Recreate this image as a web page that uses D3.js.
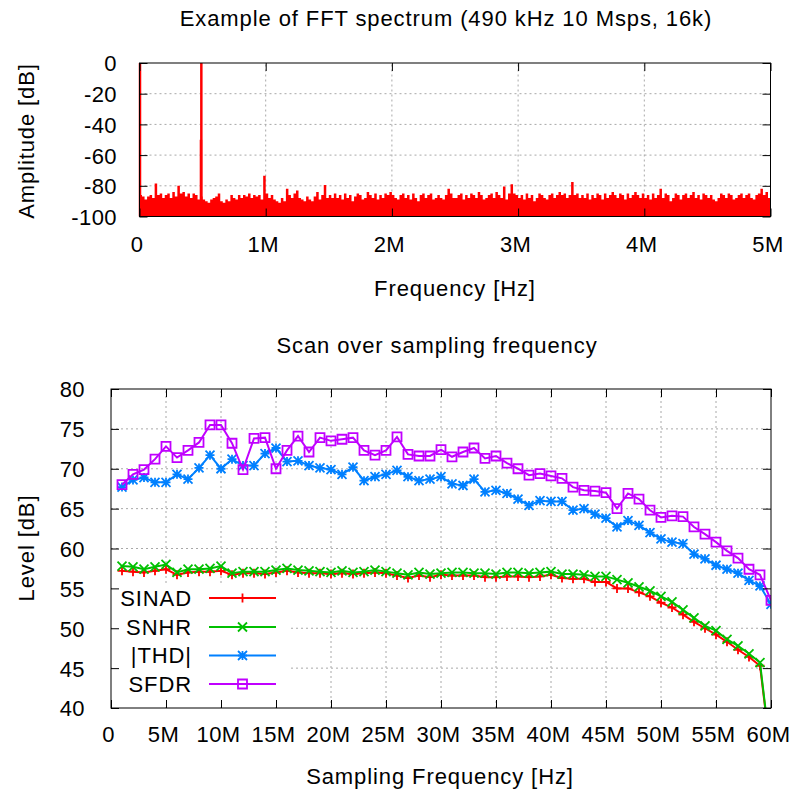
<!DOCTYPE html>
<html><head><meta charset="utf-8">
<script src="https://cdn.jsdelivr.net/npm/d3@7"></script>
<style>
html,body{margin:0;padding:0;background:#fff;}
text{font-family:"Liberation Sans",Arial,sans-serif;font-size:22px;fill:#000;letter-spacing:0.9px;}
.tick text{letter-spacing:0.4px;}
</style></head>
<body><svg id="c" width="792" height="792"></svg>
<script>
// ---------- Top chart data (FFT spectrum, MHz / dB) ----------
const fftTitle = "Example of FFT spectrum (490 kHz 10 Msps, 16k)";
const fftXTicks = [0, 1, 2, 3, 4, 5];
const fftXTickLabels = ["0", "1M", "2M", "3M", "4M", "5M"];
const fftYTicks = [0, -20, -40, -60, -80, -100];
const noiseStepMHz = 0.02;
// top envelope of the noise floor, one value per 20 kHz bin (0 .. 5 MHz)
const noiseTop = [
 -86,-87,-89,-87,-86,-88,-78.5,-86,-85,-88,-86,-85,-88,-84,-87,-80,-85,-84,-87,-85,-88,-85,-86,-89,-87,
 -89,-90,-91,-89,-88,-87,-85,-90,-91,-89,-90,-86,-88,-89,-86,-88,-86,-87,-85,-88,-86,-87,-86,-89,-73.5,
 -85,-88,-86,-89,-90,-91,-88,-90,-82,-86,-88,-85,-83,-88,-89,-90,-87,-89,-90,-87,-84,-89,-86,-79.5,-88,
 -86,-88,-85,-88,-86,-89,-85,-88,-86,-90,-87,-85,-86,-89,-88,-84,-86,-88,-85,-89,-86,-88,-85,-86,-84,
 -86,-88,-89,-86,-85,-88,-86,-89,-85,-88,-90,-86,-85,-88,-86,-85,-89,-88,-86,-88,-89,-86,-82,-85,-88,
 -88,-86,-85,-89,-86,-88,-85,-86,-88,-84,-86,-89,-88,-86,-85,-88,-84,-86,-88,-80.5,-89,-85,-79,-85,-86,
 -88,-86,-89,-85,-88,-86,-90,-88,-85,-86,-88,-89,-86,-85,-88,-86,-84,-86,-85,-88,-86,-77.5,-86,-85,-88,
 -86,-88,-85,-89,-86,-88,-85,-86,-89,-85,-88,-86,-84,-86,-88,-85,-86,-89,-85,-88,-86,-84,-86,-88,-85,
 -88,-86,-89,-85,-88,-86,-82,-88,-85,-86,-90,-88,-85,-86,-89,-86,-85,-88,-86,-84,-88,-86,-89,-85,-86,
 -88,-86,-89,-90,-88,-85,-86,-88,-85,-86,-89,-88,-86,-85,-88,-86,-85,-88,-89,-86,-85,-82,-86,-84,-88,
 -86];
// narrow spectral lines: DC, fundamental and its neighbouring bin
const peakFreqMHz = [0, 0.487, 0.49];
const peakDb      = [0, -50, 0];

// ---------- Bottom chart data ----------
const scanTitle = "Scan over sampling frequency";
const fsMHz = [1,2,3,4,5,6,7,8,9,10,11,12,13,14,15,16,17,18,19,20,21,22,23,24,25,26,27,28,29,30,
               31,32,33,34,35,36,37,38,39,40,41,42,43,44,45,46,47,48,49,50,51,52,53,54,55,56,57,58,59,60];
const sinad = [57.2,57.1,57.0,57.2,57.4,56.7,57.0,57.1,57.1,57.2,56.7,56.9,56.9,56.8,57.0,57.2,57.0,56.9,56.9,56.8,
               56.9,56.8,56.9,57.0,56.9,56.6,56.3,56.6,56.4,56.7,56.6,56.6,56.6,56.4,56.4,56.5,56.5,56.4,56.5,56.7,
               56.3,56.2,56.2,55.8,55.8,55.0,55.0,54.5,54.0,53.2,52.6,51.7,50.8,50.0,49.2,48.3,47.3,46.4,45.3,34.0];
const snhr  = [57.8,57.7,57.4,57.7,58.0,57.0,57.4,57.4,57.5,57.8,56.9,57.1,57.1,57.1,57.3,57.5,57.3,57.2,57.1,57.0,
               57.2,57.0,57.1,57.3,57.1,56.9,56.7,57.0,56.8,56.9,57.0,57.0,56.9,56.9,56.8,57.0,57.0,56.9,57.0,57.1,
               56.8,56.8,56.7,56.5,56.5,56.1,55.7,55.2,54.7,54.0,53.3,52.3,51.3,50.3,49.7,48.6,47.8,46.8,45.7,34.0];
const thd   = [67.7,68.6,68.9,68.3,68.3,69.3,68.7,70.1,71.7,70.0,71.2,70.4,70.4,71.9,72.6,70.9,71.0,70.4,70.1,69.9,
               69.3,70.2,68.5,69.0,69.3,69.8,69.0,68.5,68.7,69.0,68.1,67.9,68.7,67.1,67.3,66.9,66.2,65.4,66.0,65.9,
               65.9,64.8,65.0,64.3,63.8,62.7,63.5,62.9,62.0,61.2,60.8,60.6,59.3,58.7,57.9,57.4,56.9,56.0,55.3,53.0];
const sfdr  = [68.0,69.3,69.9,71.2,72.8,71.4,72.3,73.3,75.5,75.5,73.2,69.9,73.8,73.9,70.0,72.3,74.1,72.1,73.9,73.5,
               73.7,73.9,72.3,71.7,72.3,74.0,71.8,71.6,71.6,72.4,71.5,72.1,72.6,71.3,71.6,70.7,70.0,69.2,69.4,69.1,
               68.8,67.7,67.3,67.2,67.0,65.0,66.9,66.2,64.8,63.9,64.1,64.0,62.7,61.8,60.8,59.7,58.8,57.4,56.7,53.5];
const seriesNames  = ["SINAD", "SNHR", "|THD|", "SFDR"];
const seriesColors = ["#ff0000", "#00c000", "#0080ff", "#c000ff"];
const seriesMarks  = ["plus", "cross", "star", "square"];
const scanXTicks = [0,5,10,15,20,25,30,35,40,45,50,55,60];
const scanXTickLabels = ["0","5M","10M","15M","20M","25M","30M","35M","40M","45M","50M","55M","60M"];
const scanYTicks = [40,45,50,55,60,65,70,75,80];

// ---------- drawing ----------
const svg = d3.select("#c");
const GRID = "#a8a8a8";

function frame(g, x, y, xt, yt) {
  const [x0, x1] = x.range(), [y0, y1] = y.range();
  g.append("g").selectAll("line").data(xt.filter(v => v !== x.domain()[0] && v !== x.domain()[1]))
    .join("line").attr("x1", d => x(d)).attr("x2", d => x(d)).attr("y1", y0).attr("y2", y1)
    .attr("stroke", GRID).attr("stroke-width", 1).attr("stroke-dasharray", "2,3");
  g.append("g").selectAll("line").data(yt.filter(v => v !== y.domain()[0] && v !== y.domain()[1]))
    .join("line").attr("y1", d => y(d)).attr("y2", d => y(d)).attr("x1", x0).attr("x2", x1)
    .attr("stroke", GRID).attr("stroke-width", 1).attr("stroke-dasharray", "2,3");
}
function axes(g, x, y, xt, yt, xfmt, yfmt, xLabelY, yLabelX, xShift) {
  const [x0, x1] = x.range(), [y0, y1] = y.range();
  const TK = 8;
  const ab = g.append("g").attr("transform", `translate(0,${y0})`)
    .call(d3.axisBottom(x).tickValues(xt).tickSize(-TK).tickFormat(xfmt));
  const at = g.append("g").attr("transform", `translate(0,${y1})`)
    .call(d3.axisTop(x).tickValues(xt).tickSize(-TK).tickFormat(""));
  const al = g.append("g").attr("transform", `translate(${x0},0)`)
    .call(d3.axisLeft(y).tickValues(yt).tickSize(-TK).tickFormat(yfmt));
  const ar = g.append("g").attr("transform", `translate(${x1},0)`)
    .call(d3.axisRight(y).tickValues(yt).tickSize(-TK).tickFormat(""));
  [ab, at, al, ar].forEach(a => {
    a.select(".domain").remove();
    a.selectAll(".tick line").attr("stroke", "#000").attr("stroke-width", 1);
    a.attr("font-family", null).attr("font-size", null);
  });
  ab.selectAll(".tick text").attr("y", xLabelY - y0).attr("x", xShift).attr("dy", null).attr("text-anchor", "middle");
  al.selectAll(".tick text").attr("x", yLabelX - x0).attr("dy", "0.36em").attr("text-anchor", "end");
  g.append("rect").attr("x", x0).attr("y", y1).attr("width", x1 - x0).attr("height", y0 - y1)
    .attr("fill", "none").attr("stroke", "#000").attr("stroke-width", 1);
}

// ===== Top chart =====
const xT = d3.scaleLinear().domain([0, 5]).range([139.5, 770.5]);
const yT = d3.scaleLinear().domain([-100, 0]).range([216.5, 63]);
const gT = svg.append("g");
frame(gT, xT, yT, fftXTicks, fftYTicks);
svg.append("clipPath").attr("id", "clipT").append("rect")
  .attr("x", 139.5).attr("y", 62).attr("width", 631).attr("height", 154.5);
const noisePts = noiseTop.map((v, i) => [i * noiseStepMHz, v]);
gT.append("path").datum(noisePts).attr("clip-path", "url(#clipT)")
  .attr("d", d3.area().x(d => xT(d[0])).y0(yT(-100)).y1(d => yT(d[1])).curve(d3.curveStepAfter))
  .attr("fill", "#ff0000");
gT.append("g").selectAll("line").data(peakFreqMHz.map((f, i) => [f, peakDb[i]])).join("line")
  .attr("x1", d => xT(d[0]) + (d[0] === 0 ? 0.5 : 0)).attr("x2", d => xT(d[0]) + (d[0] === 0 ? 0.5 : 0))
  .attr("y1", yT(-100)).attr("y2", d => yT(d[1]))
  .attr("stroke", "#ff0000").attr("stroke-width", 2.5);
axes(gT, xT, yT, fftXTicks, fftYTicks, (d, i) => fftXTickLabels[i], d => d, 252, 117, -3);
svg.append("text").attr("x", 446).attr("y", 26).attr("text-anchor", "middle").text(fftTitle);
svg.append("text").attr("x", 455).attr("y", 296).attr("text-anchor", "middle").text("Frequency [Hz]");
svg.append("text").attr("transform", "translate(34,141) rotate(-90)").attr("text-anchor", "middle").text("Amplitude [dB]");

// ===== Bottom chart =====
const xB = d3.scaleLinear().domain([0, 60]).range([111, 771]);
const yB = d3.scaleLinear().domain([40, 80]).range([708, 389]);
const gB = svg.append("g");
frame(gB, xB, yB, scanXTicks, scanYTicks);
gB.append("rect").attr("x", 112).attr("y", 583).attr("width", 178).attr("height", 124).attr("fill", "#fff");
svg.append("clipPath").attr("id", "clipB").append("rect")
  .attr("x", 111).attr("y", 389).attr("width", 660).attr("height", 319);

function marker(sel, type, s) {
  let d;
  if (type === "plus") d = `M${-s},0H${s}M0,${-s}V${s}`;
  else if (type === "cross") d = `M${-s},${-s}L${s},${s}M${-s},${s}L${s},${-s}`;
  else if (type === "star") d = `M${-s},0H${s}M0,${-s}V${s}M${-s},${-s}L${s},${s}M${-s},${s}L${s},${-s}`;
  else d = `M${-s},${-s}H${s}V${s}H${-s}Z`;
  return sel.attr("d", d);
}
const allSeries = [sinad, snhr, thd, sfdr];
const line = d3.line().x(d => xB(d[0])).y(d => yB(d[1]));
const gData = gB.append("g").attr("clip-path", "url(#clipB)");
allSeries.forEach((vals, k) => {
  const pts = fsMHz.map((f, i) => [f, vals[i]]);
  const col = seriesColors[k];
  gData.append("path").datum(pts).attr("d", line).attr("fill", "none")
    .attr("stroke", col).attr("stroke-width", 2);
  gData.append("g").selectAll("path").data(pts).join("path")
    .attr("transform", d => `translate(${xB(d[0])},${yB(d[1])})`)
    .call(s => marker(s, seriesMarks[k], 4.5))
    .attr("fill", "none").attr("stroke", col).attr("stroke-width", 1.8);
});
const legY = [598, 627, 655.5, 684];
seriesNames.forEach((n, k) => {
  const y = legY[k];
  gB.append("text").attr("x", 192).attr("y", y).attr("dy", "0.36em").attr("text-anchor", "end").text(n);
  gB.append("line").attr("x1", 209).attr("x2", 276).attr("y1", y).attr("y2", y)
    .attr("stroke", seriesColors[k]).attr("stroke-width", 2);
  gB.append("path").attr("transform", `translate(242.5,${y})`).call(s => marker(s, seriesMarks[k], 4.5))
    .attr("fill", "none").attr("stroke", seriesColors[k]).attr("stroke-width", 1.8);
});
axes(gB, xB, yB, scanXTicks, scanYTicks, (d, i) => scanXTickLabels[i], d => d, 742, 85, -3);
svg.append("text").attr("x", 437).attr("y", 353).attr("text-anchor", "middle").text(scanTitle);
svg.append("text").attr("x", 440).attr("y", 784).attr("text-anchor", "middle").text("Sampling Frequency [Hz]");
svg.append("text").attr("transform", "translate(34,548) rotate(-90)").attr("text-anchor", "middle").text("Level [dB]");
</script></body></html>
